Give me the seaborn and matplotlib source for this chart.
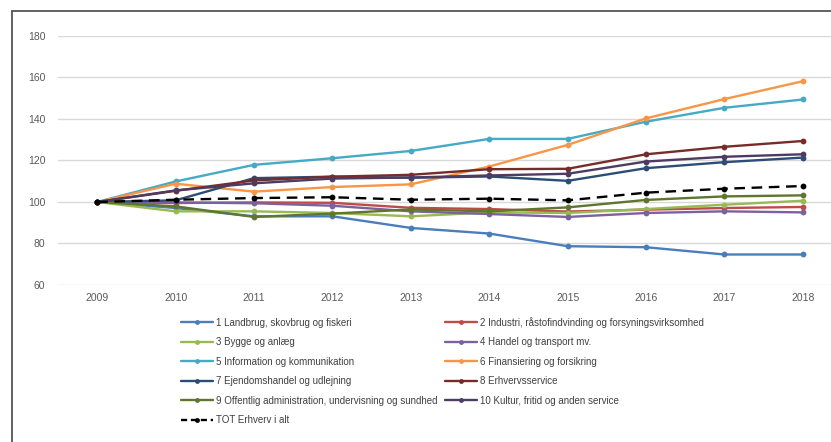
import matplotlib
matplotlib.use("Agg")
import matplotlib.pyplot as plt
import matplotlib.lines as mlines
import seaborn as sns
import pandas as pd

years = [2009, 2010, 2011, 2012, 2013, 2014, 2015, 2016, 2017, 2018]

labels = [
    "1 Landbrug, skovbrug og fiskeri",
    "2 Industri, råstofindvinding og forsyningsvirksomhed",
    "3 Bygge og anlæg",
    "4 Handel og transport mv.",
    "5 Information og kommunikation",
    "6 Finansiering og forsikring",
    "7 Ejendomshandel og udlejning",
    "8 Erhvervsservice",
    "9 Offentlig administration, undervisning og sundhed",
    "10 Kultur, fritid og anden service",
    "TOT Erhverv i alt",
]

landbrug = [100, 97.1, 93.1, 93.1, 87.5, 84.8, 78.7, 78.2, 74.7, 74.7]
industri = [100, 99.5, 99.8, 99.6, 97.2, 96.6, 95.4, 96.3, 97.1, 97.6]
bygge = [100, 95.5, 95.5, 94.7, 93.1, 95.0, 94.7, 96.6, 98.7, 100.6]
handel = [100, 99.8, 99.4, 98.2, 95.5, 94.2, 92.8, 94.7, 95.5, 95.0]
info = [100, 109.9, 117.9, 121.1, 124.6, 130.4, 130.4, 138.7, 145.4, 149.4]
finans = [100, 108.8, 105.0, 107.2, 108.5, 117.1, 127.5, 140.3, 149.6, 158.2]
ejendom = [100, 100.8, 111.5, 112.2, 111.7, 112.3, 110.2, 116.3, 119.2, 121.4]
erhvervsservice = [100, 105.4, 110.4, 112.2, 113.1, 115.8, 116.0, 123.0, 126.6, 129.4]
offentlig = [100, 97.9, 92.8, 94.4, 96.4, 95.5, 97.4, 101.0, 102.7, 103.2]
kultur = [100, 105.6, 109.0, 111.3, 111.8, 112.8, 113.6, 119.5, 121.8, 123.0]
total = [100, 101.1, 101.9, 102.3, 101.1, 101.6, 100.8, 104.5, 106.4, 107.7]

series = [landbrug, industri, bygge, handel, info, finans,
          ejendom, erhvervsservice, offentlig, kultur, total]

colors = ["#4A7EBB", "#BE4B48", "#98B954", "#7D60A0", "#46AAC5", "#F79646",
          "#2C4D75", "#772C2A", "#5F7530", "#4D3B62", "#000000"]

rows = []
for lab, vals in zip(labels, series):
    for yr, v in zip(years, vals):
        rows.append({"Year": yr, "Series": lab, "Value": v})
df = pd.DataFrame(rows)

sns.set_style("white")
plt.rcParams["font.family"] = ["Liberation Sans Narrow", "Liberation Sans", "DejaVu Sans"]

fig = plt.figure(figsize=(8.31, 4.42), dpi=100)
ax = fig.add_axes([58 / 831, 157 / 442, 784 / 831, 249 / 442])

# draw the lines (total on top)
for lab, col in zip(labels, colors):
    sub = df[df["Series"] == lab]
    is_tot = lab.startswith("TOT")
    sns.lineplot(data=sub, x="Year", y="Value", ax=ax, color=col,
                 linewidth=1.7, marker="o", markersize=4.2,
                 markeredgewidth=0, legend=False,
                 zorder=4 if is_tot else 3)

for ln in ax.get_lines():
    if ln.get_color() == "#000000":
        ln.set_linestyle((0, (4.5, 2.8)))

ax.set_xlim(2008.5, 2018.5)
ax.set_ylim(60, 180)
ax.set_yticks(range(60, 181, 20))
ax.set_xticks(years)
ax.set_xlabel("")
ax.set_ylabel("")
ax.grid(axis="y", color="#d9d9d9", linewidth=1.0)
ax.set_axisbelow(True)
for s in ax.spines.values():
    s.set_visible(False)
ax.tick_params(axis="both", length=0, labelsize=7.5, colors="#595959")
ax.tick_params(axis="y", pad=9)
ax.tick_params(axis="x", pad=6)

# legend, row-wise order like Excel
handles = []
for lab, col in zip(labels, colors):
    is_tot = lab.startswith("TOT")
    handles.append(mlines.Line2D([], [], color=col, linewidth=1.7,
                                 linestyle=(0, (2.6, 1.6)) if is_tot else "-",
                                 marker="o", markersize=3.5, markeredgewidth=0,
                                 markevery=[1] if not is_tot else None))
order = [0, 2, 4, 6, 8, 10, 1, 3, 5, 7, 9]
leg = fig.legend([handles[i] for i in order], [labels[i] for i in order],
                 ncol=2, loc="upper left", bbox_to_anchor=(177 / 831, 1 - 313 / 442),
                 frameon=False, fontsize=7.0, handlelength=3.3, handletextpad=0.3,
                 columnspacing=0.8, labelspacing=0.98, borderaxespad=0,
                 labelcolor="#404040")

# outer chart frame (cropped on right and bottom)
fy = 1 - 11 / 442
fx = 11.5 / 831
fig.add_artist(mlines.Line2D([fx, 1], [fy, fy], color="#555555", linewidth=1.3,
                             transform=fig.transFigure))
fig.add_artist(mlines.Line2D([fx, fx], [0, fy], color="#555555", linewidth=1.3,
                             transform=fig.transFigure))

fig.savefig("out.png", dpi=100)
